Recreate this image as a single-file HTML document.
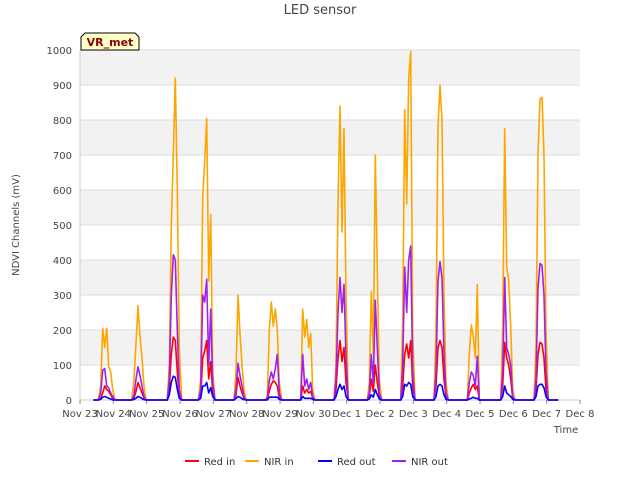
<!DOCTYPE html>
<html><head><meta charset="utf-8"><style>
body{margin:0;background:#fff;font-family:"Liberation Sans","DejaVu Sans",sans-serif}
svg text{font-family:"DejaVu Sans","Liberation Sans",sans-serif}
</style></head><body>
<svg id="c" width="640" height="480" xmlns="http://www.w3.org/2000/svg">
<rect width="640" height="480" fill="#fff"/>
<g id="bands"></g><g id="grid"></g><g id="ticks"></g><g id="series"></g>
<text x="320" y="14" text-anchor="middle" font-size="13" fill="#444">LED sensor</text>
<text transform="translate(19,225) rotate(-90)" text-anchor="middle" font-size="10" fill="#444">NDVI Channels (mV)</text>
<text x="566" y="433" text-anchor="middle" font-size="10" fill="#444">Time</text>
<g><path d="M81,50 L81,37 L85,33 L135,33 L139,37 L139,50 Z" fill="#ffffc8" stroke="#000" stroke-width="1"/>
<text x="110" y="46" text-anchor="middle" font-size="11" font-weight="bold" fill="#8b0000">VR_met</text></g>
<g id="legend"></g>
</svg>
<script>
const yTicks=[0,100,200,300,400,500,600,700,800,900,1000];
const xTickLabels=["Nov 23","Nov 24","Nov 25","Nov 26","Nov 27","Nov 28","Nov 29","Nov 30","Dec 1","Dec 2","Dec 3","Dec 4","Dec 5","Dec 6","Dec 7","Dec 8"];
const dayOffsets=[0.55,0.62,0.68,0.74,0.80,0.86,0.92,0.98,1.05];
const nirIn=[
0,40,205,150,205,95,80,30,0, 0,60,160,270,180,120,40,0,0, 0,0,100,500,700,920,600,150,0,
0,60,580,680,805,340,530,80,0, 0,0,80,300,190,100,30,0,0, 0,10,200,280,210,260,200,50,0,
0,0,260,180,230,150,190,30,0, 0,0,100,560,840,480,775,300,0, 0,0,50,310,130,700,370,60,0,
0,0,220,830,560,920,995,200,0, 0,0,200,780,900,800,300,50,0, 0,0,130,215,180,120,330,0,0,
0,0,200,775,380,340,210,30,0, 0,0,150,700,860,865,700,200,0];
const nirOut=[
0,20,85,90,40,35,20,10,0, 0,15,60,95,70,40,10,0,0, 0,0,60,300,415,400,200,30,0,
0,30,300,280,345,100,260,50,0, 0,0,30,105,70,40,10,0,0, 0,5,55,80,60,90,130,20,0,
0,0,130,40,60,30,50,10,0, 0,0,60,250,350,250,330,120,0, 0,0,20,130,50,285,150,20,0,
0,0,100,380,250,400,440,80,0, 0,0,80,340,395,350,130,20,0, 0,0,50,80,70,40,125,0,0,
0,0,80,350,150,130,100,10,0, 0,0,60,320,390,385,300,80,0];
const redIn=[
0,5,20,40,30,25,15,5,0, 0,5,25,50,35,20,5,0,0, 0,0,30,130,180,170,80,10,0,
0,10,120,140,170,60,110,20,0, 0,0,15,65,40,20,5,0,0, 0,2,25,45,55,50,40,5,0,
0,0,40,20,30,20,25,5,0, 0,0,30,120,170,110,150,50,0, 0,0,10,60,25,100,50,10,0,
0,0,40,130,160,120,170,40,0, 0,0,40,150,170,150,60,10,0, 0,0,20,35,45,30,40,0,0,
0,0,40,165,120,100,60,5,0, 0,0,30,130,165,160,120,30,0];
const redOut=[
0,2,8,10,8,5,3,0,0, 0,2,5,10,8,4,1,0,0, 0,0,15,50,68,65,30,5,0,
0,5,40,40,50,20,35,10,0, 0,0,5,10,8,4,1,0,0, 0,0,8,8,8,8,8,2,0,
0,0,10,5,5,5,5,2,0, 0,0,10,30,45,30,40,10,0, 0,0,3,15,8,30,15,3,0,
0,0,10,45,40,50,45,10,0, 0,0,10,40,45,40,15,2,0, 0,0,3,5,8,5,5,0,0,
0,0,10,40,20,15,10,2,0, 0,0,10,40,45,45,35,10,0];
const seriesNames=["Red in","NIR in","Red out","NIR out"];
const seriesColors=["#ff0000","#ffa500","#0000ff","#a020f0"];

const X0=80,X1=580,Y0=400,Y1=50;
const xs=d=>X0+(X1-X0)*d/15;
const ys=v=>Y0-(Y0-Y1)*v/1000;
const NS="http://www.w3.org/2000/svg";
function mk(tag,attrs,parent){const e=document.createElementNS(NS,tag);for(const k in attrs)e.setAttribute(k,attrs[k]);parent.appendChild(e);return e;}
const bands=document.getElementById('bands'),grid=document.getElementById('grid'),ticks=document.getElementById('ticks');
for(let i=0;i<yTicks.length-1;i++){if(i%2===1){const r=mk('rect',{x:X0,y:ys(yTicks[i+1]),width:X1-X0,height:ys(yTicks[i])-ys(yTicks[i+1]),fill:'#f2f2f2'},bands);

}}
yTicks.forEach(v=>{const l=mk('line',{x1:X0,x2:X1,y1:ys(v),y2:ys(v),stroke:'#dcdcdc','stroke-width':1},grid);


const t=mk('text',{x:X0-8,y:ys(v)+4,'text-anchor':'end','font-size':10,fill:'#444'},ticks);t.textContent=v;

});
xTickLabels.forEach((s,i)=>{const l=mk('line',{x1:xs(i),x2:xs(i),y1:Y0,y2:Y0+4,stroke:'#888'},ticks);


const t=mk('text',{x:xs(i),y:Y0+17,'text-anchor':'middle','font-size':10,fill:'#444'},ticks);t.textContent=s;

});
mk('line',{x1:X0,x2:X0,y1:Y1,y2:Y0,stroke:'#ccc'},grid);
mk('line',{x1:X0,x2:X1,y1:Y0,y2:Y0,stroke:'#ccc'},grid);
const seriesData=[redIn,nirIn,redOut,nirOut];
const ser=document.getElementById('series');
[1,0,3,2].forEach(si=>{const vals=seriesData[si];let pts=[[xs(0.4),ys(0)]];
const nd=vals.length/dayOffsets.length;
for(let d=0;d<nd;d++)dayOffsets.forEach((o,j)=>pts.push([xs(d+o),ys(vals[d*dayOffsets.length+j])]));
pts.push([xs(14.35),ys(0)]);
const p=mk('polyline',{points:pts.map(p=>p.map(n=>n.toFixed(1)).join(',')).join(' '),fill:'none',stroke:seriesColors[si],'stroke-width':1.6,'stroke-linejoin':'round'},ser);

});
const leg=document.getElementById('legend');const lx=[185,245,318,392];
seriesNames.forEach((n,i)=>{const g=mk('g',{},leg);


mk('line',{x1:lx[i],x2:lx[i]+14,y1:461,y2:461,stroke:seriesColors[i],'stroke-width':2},g);
const t=mk('text',{x:lx[i]+19,y:465,'font-size':10,fill:'#333'},g);t.textContent=n;});
</script>
</body></html>
